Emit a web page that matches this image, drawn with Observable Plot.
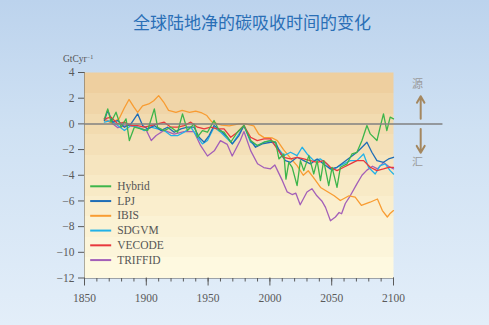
<!DOCTYPE html>
<html><head><meta charset="utf-8">
<script src="https://cdn.jsdelivr.net/npm/d3@7"></script>
<script src="https://cdn.jsdelivr.net/npm/@observablehq/plot@0.6"></script>
<style>
html,body{margin:0;padding:0;}
body{width:489px;height:325px;overflow:hidden;position:relative;
  background:linear-gradient(to bottom,#bcd3ed 0%,#cfe1f3 40%,#e3eef9 100%);
  font-family:"Liberation Serif",serif;}
#title{position:absolute;left:0;width:504px;top:11.5px;line-height:20px;text-align:center;
  font-family:"Noto Sans CJK SC",sans-serif;font-size:17px;color:#2a6fb6;}
#unit{position:absolute;left:63px;top:52px;line-height:10px;font-size:9.5px;color:#555;}
#unit sup{font-size:6px;vertical-align:3px;}
#chart{position:absolute;left:0;top:0;}
</style></head>
<body>
<div id="chart"></div>
<div id="title">全球陆地净的碳吸收时间的变化</div>
<div id="unit">GtCyr<sup>−1</sup></div>
<script>
// ---- data: [year, net land carbon uptake GtC/yr] ----
const hybrid = [[1866.1,0.39],[1868.8,1.17],[1871.5,0.13],[1875.5,0.91],[1879.6,-0.26],[1883.6,0.39],[1886.3,-1.3],[1890.3,-0.26],[1895.7,-0.39],[1901.1,-0.52],[1906.5,1.17],[1909.1,-0.26],[1914.5,-0.52],[1919.9,-0.26],[1925.3,-0.65],[1929.3,0.78],[1933.3,-0.52],[1938.7,0],[1941.4,-1.04],[1945.4,-0.52],[1949.5,-0.65],[1954.8,0.26],[1958.9,-0.52],[1962.9,-0.65],[1968.3,-1.43],[1973.7,-0.65],[1979,-0.13],[1984.4,-1.3],[1989.8,-1.69],[1995.2,-1.43],[2000.5,-1.3],[2004.6,-1.43],[2007.3,-2.73],[2011.3,-2.34],[2013,-4.3],[2015.3,-2.99],[2018,-3.38],[2022,-4.81],[2024.7,-2.86],[2027.4,-3.64],[2031.5,-2.47],[2035.5,-3.9],[2038.2,-2.86],[2040.9,-4.42],[2043.5,-2.86],[2047.6,-4.81],[2050.3,-3.38],[2054.3,-4.94],[2057,-3.38],[2062.4,-3.12],[2066.4,-2.34],[2070.4,-2.21],[2074.5,-1.3],[2078.5,-0.13],[2081.2,-0.78],[2086.6,-1.3],[2089.2,-0.26],[2091.9,0.78],[2094.6,-0.52],[2097.3,0.52],[2100,0.39]];
const lpj = [[1866.1,0.26],[1868.8,1.04],[1872.8,0.13],[1876.9,0.26],[1882.3,-0.26],[1887.6,0],[1893,0.78],[1897,-0.13],[1901.1,-0.39],[1906.5,-0.13],[1911.8,-0.52],[1917.2,-0.26],[1922.6,-0.65],[1928,-0.39],[1933.3,-0.26],[1938.7,-0.26],[1942.7,-1.04],[1946.8,-1.43],[1950.8,-0.91],[1954.8,-0.13],[1960.2,-0.52],[1965.6,-1.04],[1969.6,-1.56],[1975,-0.91],[1979,-0.13],[1984.4,-1.3],[1988.4,-1.82],[1993.8,-1.56],[2000.5,-1.43],[2004.6,-1.43],[2008.6,-2.34],[2012.6,-2.86],[2016.7,-2.99],[2022,-2.6],[2027.4,-2.86],[2032.8,-3.12],[2038.2,-2.73],[2043.5,-3.12],[2048.9,-3.51],[2054.3,-3.38],[2059.7,-2.99],[2065.1,-2.6],[2070.4,-2.21],[2074.5,-1.82],[2078.5,-1.43],[2082.5,-2.21],[2086.6,-2.86],[2091.9,-2.99],[2096,-2.73],[2100,-2.6]];
const ibis = [[1866,0.3],[1872,0.1],[1878,0.4],[1882,1.2],[1886,1.9],[1890,1.3],[1893,0.9],[1897,1.4],[1902,1.55],[1906,1.8],[1910,2.2],[1914,1.7],[1918,1.05],[1924,0.9],[1929,1.05],[1935,0.9],[1940,1.0],[1945,0.85],[1949,0.65],[1953,0.15],[1961,-0.1],[1967,-0.15],[1975,0],[1980,0],[1987,-0.15],[1991,-0.8],[1995,-1.05],[2002,-1.1],[2006,-1.3],[2011,-2.0],[2017,-2.7],[2022,-3.25],[2027,-4.0],[2031,-3.65],[2035,-4.15],[2041,-4.95],[2047,-5.3],[2052,-5.6],[2057,-5.97],[2064,-5.6],[2069,-5.7],[2074,-6.35],[2081,-6.1],[2087,-5.85],[2091,-6.75],[2095,-7.25],[2097,-7.0],[2100,-6.75]];
const sdgvm = [[1866.1,0.13],[1871.5,0.26],[1876.9,-0.13],[1882.3,-0.52],[1887.6,-0.13],[1893,-0.26],[1898.4,-0.52],[1903.8,-0.26],[1909.1,-0.39],[1914.5,-0.52],[1919.9,-0.91],[1925.3,-0.91],[1930.6,-0.65],[1936,-0.26],[1941.4,-1.04],[1945.4,-1.56],[1949.5,-1.3],[1954.8,-0.26],[1960.2,-0.65],[1965.6,-1.17],[1969.6,-1.56],[1975,-0.78],[1979,-0.13],[1984.4,-1.43],[1989.8,-1.69],[1995.2,-1.43],[2000.5,-1.3],[2005.9,-1.82],[2011.3,-2.47],[2016.7,-2.21],[2022,-2.47],[2026.1,-1.82],[2030.1,-2.34],[2035.5,-2.86],[2040.9,-2.73],[2046.2,-3.12],[2050.3,-3.64],[2054.3,-3.38],[2059.7,-3.12],[2065.1,-2.86],[2070.4,-2.86],[2075.8,-2.34],[2079.8,-3.38],[2085.2,-3.9],[2089.2,-3.25],[2093.3,-3.12],[2097.3,-3.64],[2100,-3.9]];
const vecode = [[1866.1,0.39],[1871.5,0.52],[1876.9,0],[1882.3,0.13],[1887.6,-0.13],[1893,-0.13],[1898.4,-0.26],[1903.8,-0.13],[1909.1,0],[1914.5,0.13],[1919.9,-0.26],[1925.3,-0.26],[1930.6,-0.13],[1936,0.13],[1941.4,-0.26],[1946.8,-0.39],[1952.2,-0.26],[1957.5,-0.39],[1962.9,-0.39],[1968.3,-1.04],[1973.7,-0.65],[1979,-0.13],[1984.4,-1.04],[1989.8,-1.3],[1995.2,-1.17],[2000.5,-1.17],[2005.9,-1.95],[2011.3,-2.6],[2016.7,-2.73],[2022,-2.6],[2027.4,-2.73],[2032.8,-2.86],[2038.2,-2.99],[2043.5,-2.86],[2048.9,-3.38],[2054.3,-3.64],[2059.7,-3.38],[2065.1,-3.12],[2070.4,-2.86],[2075.8,-2.86],[2081.2,-3.38],[2086.6,-3.64],[2091.9,-3.51],[2096,-3.38],[2100,-3.38]];
const triffid = [[1866,0.4],[1871.5,0.1],[1877,-0.3],[1885,-0.1],[1893,-0.25],[1900,-0.5],[1904,-1.3],[1908,-0.9],[1914.5,-0.5],[1922.5,-0.8],[1930.5,-0.6],[1938.5,-0.6],[1944,-1.7],[1949.5,-2.5],[1955,-2.1],[1960,-1.3],[1965.5,-1.6],[1969.5,-2.5],[1976,-1.3],[1979,-0.6],[1984.5,-2.1],[1990,-3.1],[1995,-3.4],[2000.5,-3.5],[2004,-3.2],[2006,-3.6],[2010,-4.4],[2014,-5.3],[2018,-5.5],[2021,-5.4],[2024.5,-6.3],[2030,-5.3],[2034,-5.05],[2038,-5.6],[2042,-6.0],[2045,-6.5],[2049,-7.55],[2053,-7.25],[2056,-6.9],[2058,-7.0],[2061,-6.2],[2065,-5.6],[2070.5,-4.65],[2074.5,-4.0],[2078.5,-3.6],[2083,-3.3],[2087,-3.5],[2092,-3.0],[2096,-3.3],[2100,-3.5]];

const seriesNames = ["Hybrid","LPJ","IBIS","SDGVM","VECODE","TRIFFID"];
const seriesColors = ["#3db54a","#1e6db6","#f89c32","#22b2e8","#e8383d","#a35fb8"];
const xTicks = d3.range(1850, 2101, 10);
const xLabels = [1850, 1900, 1950, 2000, 2050, 2100];
const yTicks = d3.range(-12, 5, 2);
const drawOrder = ["TRIFFID","IBIS","SDGVM","LPJ","VECODE","Hybrid"];
const sideLabels = ["源","汇"];

const bySeries = {Hybrid: hybrid, LPJ: lpj, IBIS: ibis, SDGVM: sdgvm, VECODE: vecode, TRIFFID: triffid};
const rows = seriesNames.flatMap(s => bySeries[s].map(([year, value]) => ({series: s, year, value})));

// legend layout (data units inside the frame)
const legY0 = -4.86, legStep = 1.149;

const chart = Plot.plot({
  width: 489, height: 325,
  marginLeft: 84, marginRight: 96, marginTop: 72, marginBottom: 47.5,
  style: {background: "transparent", color: "#5a5a5a", fontFamily: "Liberation Serif, serif", fontSize: "11.5px"},
  x: {domain: [1850, 2100], ticks: xTicks, tickSize: 4, tickPadding: 12,
      tickFormat: d => xLabels.includes(d) ? String(d) : "", line: true, label: null},
  y: {domain: [-12, 4], ticks: yTicks, tickSize: 6, tickPadding: 4, line: true, label: null},
  color: {domain: seriesNames, range: seriesColors},
  marks: [
    Plot.frame({fill: "url(#bandGrad)", stroke: "none"}),
    Plot.ruleX(xLabels, {y1: -12, y2: -12, insetBottom: -8, stroke: "#5a5a5a"}),
    ...drawOrder.map(s => Plot.line(rows.filter(r => r.series === s),
      {x: "year", y: "value", stroke: "series", strokeWidth: 1.3})),
    Plot.ruleY([0], {x1: 1850, x2: 2140, stroke: "#808080", strokeWidth: 1.5}),
    Plot.arrow([{y1: 0.4, y2: 2.15}, {y1: -0.4, y2: -2.25}],
      {x1: 2122, x2: 2122, y1: "y1", y2: "y2", stroke: "#a4875f", strokeWidth: 2, headLength: 7}),
    Plot.text(sideLabels, {x: 2119.5, y: (d, i) => i === 0 ? 3.05 : -3.0, text: d => d,
      fill: "#9a9a9a", fontSize: 11, fontFamily: "Noto Sans CJK SC"}),
    Plot.ruleY(seriesNames, {y: (d, i) => legY0 - i * legStep, x1: 1855, x2: 1872, stroke: d => d, strokeWidth: 2}),
    Plot.text(seriesNames, {y: (d, i) => legY0 - i * legStep, x: 1876.4, text: d => d,
      textAnchor: "start", fill: "#555", fontSize: 11.5})
  ]
});

const svg = d3.select(chart.tagName.toLowerCase() === "svg" ? chart : chart.querySelector("svg"));
const bands = ["#eecf9f","#f0d5a8","#f2dbb0","#f4e0b8","#f6e5bf","#f8eac6","#faeecd","#fbf2d4","#fcf5da","#fef9e0"];
const grad = svg.insert("defs", ":first-child").append("linearGradient")
  .attr("id", "bandGrad").attr("x1", 0).attr("y1", 0).attr("x2", 0).attr("y2", 1);
bands.forEach((c, i) => {
  grad.append("stop").attr("offset", i / bands.length).attr("stop-color", c);
  grad.append("stop").attr("offset", (i + 1) / bands.length).attr("stop-color", c);
});
document.getElementById("chart").appendChild(chart);
</script>
</body></html>
